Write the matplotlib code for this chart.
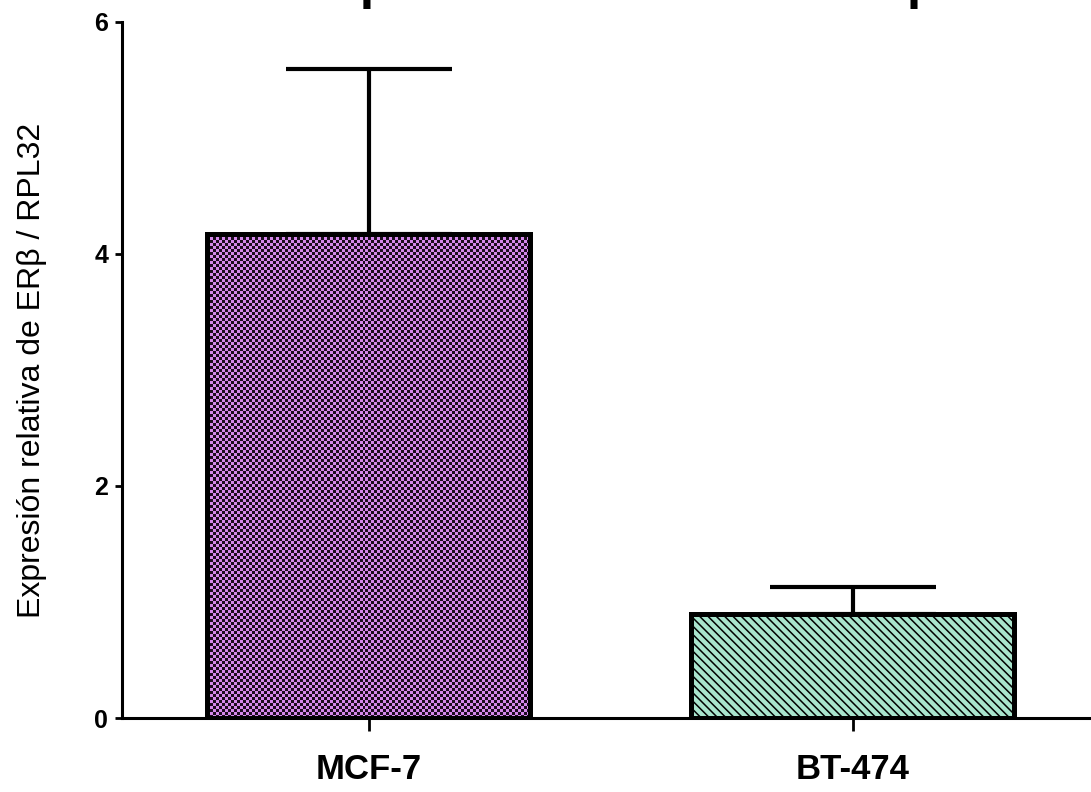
import numpy as np
import matplotlib
matplotlib.use("Agg")
import matplotlib.pyplot as plt
from matplotlib.colors import ListedColormap

# ── Data ──────────────────────────────────────────────────────────────────────
lines_cell = ["MCF-7", "BT-474"]
expr_mean = [4.17, 0.90]
expr_err = [1.42, 0.23]

plt.rcParams["font.family"] = ["Liberation Sans", "DejaVu Sans"]
plt.rcParams["hatch.linewidth"] = 1.1

fig = plt.figure(figsize=(10.91, 7.92), dpi=100)
ax = fig.add_axes([0.1118, 0.0934, 0.8882, 0.879])

x = np.arange(len(lines_cell))
width = 0.667

bars = ax.bar(x, expr_mean, width=width, color=["#d488ea", "#a9e4cd"],
              edgecolor="black", linewidth=3.6, zorder=2)
bars[1].set_hatch("\\\\\\\\")

# checkerboard fill for the first bar, clipped to its rectangle
b0 = bars[0]
nx, ny = 108, 161
chk = (np.add.outer(np.arange(ny), np.arange(nx)) % 2).astype(float)
im = ax.imshow(chk, cmap=ListedColormap(["#d488ea", "#1c0c1e"]),
               extent=(b0.get_x(), b0.get_x() + b0.get_width(), 0, b0.get_height()),
               interpolation="nearest", aspect="auto", zorder=2.1)
im.set_clip_path(b0)
# redraw the edge above the pattern
ax.bar(x[:1], expr_mean[:1], width=width, facecolor="none",
       edgecolor="black", linewidth=3.6, zorder=2.2)

ax.errorbar(x, expr_mean, yerr=[np.zeros(len(x)), expr_err], fmt="none",
            ecolor="black", elinewidth=3.0, capsize=60, capthick=3.0, zorder=1)

ax.set_xlim(-0.51, 1.492)
ax.set_ylim(0, 6)
ax.set_yticks([0, 2, 4, 6])
ax.set_xticks(x)
ax.set_xticklabels(lines_cell, fontsize=25, fontweight="bold")
for lab in ax.get_yticklabels():
    lab.set_fontweight("bold")
    lab.set_fontsize(18)

ax.spines["top"].set_visible(False)
ax.spines["right"].set_visible(False)
ax.spines["left"].set_linewidth(2.2)
ax.spines["bottom"].set_linewidth(2.2)
ax.tick_params(axis="y", direction="out", length=5, width=2, pad=5)
ax.tick_params(axis="x", direction="out", length=9, width=2, pad=16)

ax.set_ylabel("Expresión relativa de ERβ / RPL32", fontsize=23)
ax.yaxis.set_label_coords(-0.077, 0.5)

# title, mostly cut off by the top edge of the figure
fig.text(0.566, 1.0 + 2 / 792, "Expresión relativa de ERβ", fontsize=37.5,
         fontweight="bold", ha="center", va="baseline")

fig.savefig("out.png", dpi=100)
